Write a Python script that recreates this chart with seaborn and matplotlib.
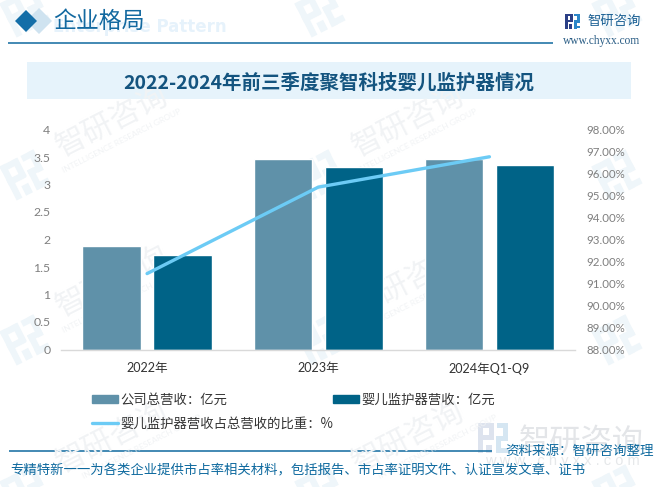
import matplotlib
matplotlib.use("Agg")
import matplotlib.pyplot as plt
import matplotlib.patches as mpatches
from matplotlib.lines import Line2D
from matplotlib.transforms import Affine2D
import pandas as pd
import seaborn as sns

# ---- data ----
years = ["2022年", "2023年", "2024年Q1-Q9"]
total_revenue = [1.89, 3.47, 3.47]
monitor_revenue = [1.72, 3.31, 3.36]
monitor_share = [91.45, 95.38, 96.76]

left_ticks = [0, 0.5, 1, 1.5, 2, 2.5, 3, 3.5, 4]
left_labels = ["0", "0.5", "1", "1.5", "2", "2.5", "3", "3.5", "4"]
right_ticks = list(range(88, 99))

total_name = "公司总营收：亿元"
monitor_name = "婴儿监护器营收：亿元"
share_name = "婴儿监护器营收占总营收的比重：%"

TITLE = "2022-2024年前三季度聚智科技婴儿监护器情况"
FOOTER = "专精特新一一为各类企业提供市占率相关材料，包括报告、市占率证明文件、认证宣发文章、证书"

# ---- colours ----
TOTAL_COLOR = "#5f91a9"
MONITOR_COLOR = "#006387"
SHARE_COLOR = "#6ccbf5"
BLUE = "#0f6a9f"
TICK_GRAY = "#7f7f7f"
WM_COLOR = "#f1f3f5"
WM_BLUE = "#eff6fa"

sns.set_theme(style="white")
plt.rcParams["font.family"] = ["Lato", "Noto Sans CJK SC", "DejaVu Sans"]
CJK = ["Noto Sans CJK SC", "DejaVu Sans"]

W, H = 664, 487
fig = plt.figure(figsize=(W / 100, H / 100), dpi=100, facecolor="white")

# background layer in pixel coordinates
bg = fig.add_axes([0, 0, 1, 1], zorder=0)
bg.set_xlim(0, W)
bg.set_ylim(H, 0)
bg.axis("off")


def draw_logo(ax, x, y, s, dark, light, angle=0, z=1):
    """Rough version of the company mark, centred on x, y with size s."""
    tr = Affine2D().rotate_deg_around(0.5, 0.5, angle).scale(s).translate(x - s / 2, y - s / 2) + ax.transData
    parts = [
        (0.0, 0.0, 0.5, 0.17, dark), (0.0, 0.0, 0.17, 1.0, dark),
        (0.36, 0.0, 0.17, 0.55, dark), (0.0, 0.4, 0.5, 0.17, dark),
        (0.28, 0.72, 0.2, 0.28, dark),
        (0.62, 0.0, 0.38, 0.17, light), (0.83, 0.0, 0.17, 0.6, light),
        (0.6, 0.42, 0.4, 0.17, light), (0.6, 0.42, 0.17, 0.58, light),
        (0.6, 0.83, 0.4, 0.17, light),
    ]
    for px, py, pw, ph, col in parts:
        ax.add_patch(mpatches.Rectangle((px, py), pw, ph, color=col, lw=0, transform=tr, zorder=z))


# repeated watermark, the small line of the last row sits further along so it stays on the page
for col_x in [112, 408]:
    for row_y, small_dx, small_dy in [(122, 10, 19), (282, 10, 19), (438, 30, 9)]:
        bg.text(col_x, row_y, "智研咨询", family=CJK, fontsize=22, color=WM_COLOR,
                rotation=27, ha="center", va="center", rotation_mode="anchor")
        bg.text(col_x + small_dx, row_y + small_dy, "INTELLIGENCE RESEARCH GROUP", fontsize=6, color=WM_COLOR,
                rotation=27, ha="center", va="center", rotation_mode="anchor")
for col_x in [25, 320, 617]:
    for row_y in [12, 175, 340, 490]:
        draw_logo(bg, col_x, row_y, 38, WM_BLUE, WM_BLUE, angle=-27)

# big watermark bottom right
draw_logo(bg, 493, 438, 30, "#dde3ee", "#d5e6f2")
bg.text(581, 442, "智研咨询", family=CJK, fontsize=22.5, color="#e3e5e8", ha="center", va="center")
bg.text(562, 461, "w w w . c h y x x . c o m", family="Liberation Sans", fontsize=10.5,
        color="#e6e8ea", ha="center", va="center")

# header
bg.text(227, 27, "Enterprise Pattern", fontsize=12, fontweight="bold", family="DejaVu Sans",
        color="#e6f2fb", ha="right", va="center")
bg.add_patch(mpatches.RegularPolygon((39, 21), 4, radius=13, color="#cfe3f0", lw=0))
bg.add_patch(mpatches.RegularPolygon((26, 21), 4, radius=11, color="#136ea8", lw=0))
bg.text(53.5, 21, "企业格局", family=CJK, fontsize=16.5, color="#1369a0", va="center")
bg.plot([8, 553], [42.5, 42.5], color=BLUE, lw=1.1, solid_capstyle="butt")

# company block
draw_logo(bg, 572.5, 21, 15, "#2b3f86", "#2b86c8")
bg.text(588, 21, "智研咨询", family=CJK, fontsize=9.6, color="#1a5f93", va="center")
bg.text(602, 41, "www.chyxx.com", family="Liberation Serif", fontsize=8.3, color="#2a5d85", ha="center", va="center")

# title band
bg.add_patch(mpatches.Rectangle((27, 62), 604, 37, color="#e6f3fb", lw=0))
bg.text(329, 83, TITLE, family=CJK, fontsize=14, fontweight="bold", color="#14547f", ha="center", va="center")

# footer
bg.plot([9, 492], [450.5, 450.5], color=BLUE, lw=1.1, solid_capstyle="butt")
bg.text(654, 451, "资料来源：智研咨询整理", family=CJK, fontsize=9.7, color=BLUE, ha="right", va="center")
bg.text(10, 470, FOOTER, family=CJK, fontsize=9.64, color=BLUE, ha="left", va="center")

# ---- chart ----
ax = fig.add_axes([61.5 / W, 1 - 349.5 / H, 513.5 / W, 220 / H], zorder=1)
ax.patch.set_alpha(0)

bars = pd.DataFrame({
    "year": years * 2,
    "value": total_revenue + monitor_revenue,
    "series": [total_name] * 3 + [monitor_name] * 3,
})
sns.barplot(data=bars, x="year", y="value", hue="series", order=years,
            hue_order=[total_name, monitor_name],
            palette=[TOTAL_COLOR, MONITOR_COLOR], width=0.83, gap=0.18,
            saturation=1, legend=False, ax=ax)
ax.set_xlim(-0.5, 2.5)
ax.set_ylim(0, 4)
ax.set_yticks(left_ticks)
ax.set_yticklabels(left_labels)
ax.set_xlabel("")
ax.set_ylabel("")
ax.tick_params(axis="y", length=0, pad=8, labelsize=8.8, labelcolor=TICK_GRAY)
ax.tick_params(axis="x", length=0, pad=9, labelsize=9.1, labelcolor="#333333")
sns.despine(ax=ax, left=True, right=True, top=True)
ax.spines["bottom"].set_color("#d9d9d9")
ax.spines["bottom"].set_linewidth(1)

ax2 = ax.twinx()
ax2.patch.set_alpha(0)
sns.lineplot(x=[0, 1, 2], y=monitor_share, color=SHARE_COLOR, linewidth=2.4,
             sort=False, ax=ax2, legend=False)
ax2.set_xlim(-0.5, 2.5)
ax2.set_ylim(88, 98)
ax2.set_yticks(right_ticks)
ax2.set_yticklabels([f"{t:.2f}%" for t in right_ticks])
ax2.set_ylabel("")
ax2.tick_params(axis="y", length=0, pad=8, labelsize=8.3, labelcolor=TICK_GRAY)
sns.despine(ax=ax2, left=True, right=True, top=True, bottom=True)

handles = [
    mpatches.Patch(color=TOTAL_COLOR, label=total_name),
    Line2D([], [], color=SHARE_COLOR, lw=2.4, label=share_name),
    mpatches.Patch(color=MONITOR_COLOR, label=monitor_name),
]
fig.legend(handles=handles, ncols=2, loc="upper left", bbox_to_anchor=(83 / W, 1 - 383 / H),
           frameon=False, prop={"family": CJK, "size": 9.6}, labelcolor="#333333",
           handlelength=1.95, handleheight=0.55, handletextpad=0.12, columnspacing=0.05,
           labelspacing=0.75, borderpad=0.2)

fig.savefig("out.png", dpi=100, facecolor="white")
